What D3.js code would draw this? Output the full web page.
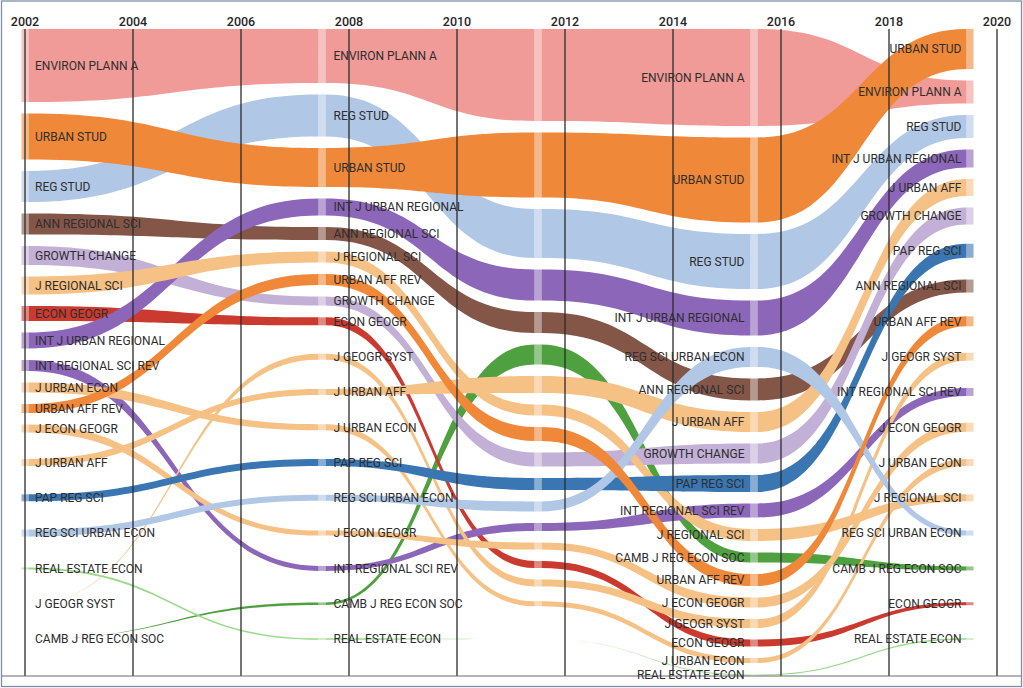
<!DOCTYPE html>
<html>
<head>
<meta charset="utf-8">
<script src="https://cdn.jsdelivr.net/npm/d3@7"></script>
<style>
  html, body { margin: 0; padding: 0; background: #fff; }
  svg { display: block; }
  text { font-family: Roboto, "Liberation Sans", sans-serif; }
</style>
</head>
<body>
<svg id="chart" width="1023" height="688"></svg>
<script>
// ---- data ----
const journals = [
  "ENVIRON PLANN A", "URBAN STUD", "REG STUD", "ANN REGIONAL SCI", "GROWTH CHANGE",
  "J REGIONAL SCI", "ECON GEOGR", "INT J URBAN REGIONAL", "INT REGIONAL SCI REV",
  "J URBAN ECON", "URBAN AFF REV", "J ECON GEOGR", "J URBAN AFF", "PAP REG SCI",
  "REG SCI URBAN ECON", "REAL ESTATE ECON", "J GEOGR SYST", "CAMB J REG ECON SOC"
];
const colors = [
  "#f09b98", "#f0883a", "#b1c7e6", "#845648", "#c3b0d6",
  "#f6c185", "#cb3a2f", "#8c66b8", "#8c66b8",
  "#f6c185", "#f0883a", "#f6c185", "#f6c185", "#3a76b1",
  "#b1c7e6", "#9ad98a", "#f6c185", "#4fa03e"
];
const periods = [2002, 2007.5, 2011.5, 2015.5, 2019.5];
const yearTicks = [2002, 2004, 2006, 2008, 2010, 2012, 2014, 2016, 2018, 2020];

// rank of each journal (same order as `journals`) in each period
const rank2002 = [0, 1, 2, 3, 4, 5, 6, 7, 8, 9, 10, 11, 12, 13, 14, 15, 16, 17];
const rank2007 = [0, 2, 1, 4, 7, 5, 8, 3, 15, 11, 6, 14, 10, 12, 13, 17, 9, 16];
const rank2011 = [0, 1, 2, 4, 9, 7, 14, 3, 12, 16, 8, 13, 6, 10, 11, 17, 15, 5];
const rank2015 = [0, 1, 2, 5, 7, 10, 15, 3, 9, 16, 12, 13, 6, 8, 4, 17, 14, 11];
const rank2019 = [1, 0, 2, 7, 5, 13, 16, 3, 10, 12, 8, 11, 4, 6, 14, 17, 9, 15];

// band weight of each journal in each period
const value2002 = [73, 46, 31, 21, 19, 18, 15, 16, 11, 10, 9, 8, 7, 7, 7, 2, 0, 0];
const value2007 = [54, 39, 42, 13, 9, 11, 8, 17, 5, 6, 11, 5, 6, 7, 6, 1.5, 6, 2.5];
const value2011 = [92, 65, 49, 21, 14, 11, 7, 31, 8, 5, 14, 7, 17, 12, 10, 0, 7, 20];
const value2015 = [97, 85, 55, 22, 20, 12, 7, 35, 14, 5, 12, 10, 20, 17, 20, 1, 9, 10];
const value2019 = [23, 40, 23, 13, 17, 7, 3, 18, 8, 7, 10, 9, 17, 14, 5, 1.5, 8, 4];

const ranks = [rank2002, rank2007, rank2011, rank2015, rank2019];
const values = [value2002, value2007, value2011, value2015, value2019];

// ---- layout ----
const W = 1023, H = 688;
const svg = d3.select("#chart");
const x = d3.scaleLinear().domain([2002, 2020]).range([25, 997]);
const yGrid = d3.scalePoint().domain(d3.range(journals.length)).range([39, 639]);
const thick = d3.scaleLinear().domain([0, 100]).range([0, 100]);
const plotTop = 29, pad = 11.5, nodeW = 7, axisBottom = 676;

const nodes = periods.map((p, pi) => {
  const idx = d3.range(journals.length).sort((a, b) => ranks[pi][a] - ranks[pi][b]);
  const out = new Array(journals.length);
  let prevBottom = null;
  idx.forEach(j => {
    const hh = thick(values[pi][j]);
    const minC = prevBottom === null ? plotTop + hh / 2 : prevBottom + pad + hh / 2;
    const c = Math.max(yGrid(ranks[pi][j]), minC);
    out[j] = { j, pi, y0: c - hh / 2, y1: c + hh / 2, c, cx: x(p) };
    prevBottom = c + hh / 2;
  });
  return out;
});

// frame
svg.append("rect").attr("x", 1.5).attr("y", 1).attr("width", W - 3).attr("height", H - 2.5)
  .attr("fill", "none").attr("stroke", "#7d8ea8").attr("stroke-width", 1.3);

// links
const gLinks = svg.append("g");
const drawOrder = d3.range(journals.length).sort((a, b) => d3.ascending(journals[a], journals[b]));
drawOrder.forEach(j => {
  for (let pi = 0; pi < periods.length - 1; pi++) {
    const a = nodes[pi][j], b = nodes[pi + 1][j];
    if (a.y1 - a.y0 <= 0 && b.y1 - b.y0 <= 0) continue;
    const x0 = a.cx + nodeW / 2, x1 = b.cx - nodeW / 2, xm = (x0 + x1) / 2;
    const p = d3.path();
    p.moveTo(x0, a.y0);
    p.bezierCurveTo(xm, a.y0, xm, b.y0, x1, b.y0);
    p.lineTo(x1, b.y1);
    p.bezierCurveTo(xm, b.y1, xm, a.y1, x0, a.y1);
    p.closePath();
    gLinks.append("path").attr("d", p.toString()).attr("fill", colors[j]);
  }
});

// nodes (lighter strips)
const gNodes = svg.append("g");
nodes.forEach(col => col.forEach(n => {
  if (n.y1 - n.y0 <= 0) return;
  gNodes.append("rect")
    .attr("x", n.cx - nodeW / 2).attr("y", n.y0)
    .attr("width", nodeW).attr("height", n.y1 - n.y0)
    .attr("fill", colors[n.j]).attr("fill-opacity", 0.6);
}));

// year grid lines
const gAxis = svg.append("g");
gAxis.selectAll("line.yr").data(yearTicks).join("line")
  .attr("class", "yr")
  .attr("x1", d => x(d)).attr("x2", d => x(d))
  .attr("y1", 29).attr("y2", axisBottom)
  .attr("stroke", "#2b2b2b").attr("stroke-width", 1.3);
gAxis.append("line").attr("x1", 2).attr("x2", W - 2)
  .attr("y1", axisBottom).attr("y2", axisBottom)
  .attr("stroke", "#6a6a6a").attr("stroke-width", 1);
gAxis.selectAll("text.yr").data(yearTicks).join("text")
  .attr("class", "yr")
  .attr("x", d => x(d)).attr("y", 26)
  .attr("text-anchor", "middle")
  .attr("font-size", 12.5).attr("font-weight", 500).attr("fill", "#262626")
  .text(d => d);

// labels
const labelCfg = [
  { dx: 10, anchor: "start" },
  { dx: 11.5, anchor: "start" },
  null,
  { dx: -9.5, anchor: "end" },
  { dx: -8.5, anchor: "end" }
];
const gLabels = svg.append("g");
nodes.forEach((col, pi) => {
  const cfg = labelCfg[pi];
  if (!cfg) return;
  col.forEach(n => {
    gLabels.append("text")
      .attr("x", n.cx + cfg.dx).attr("y", n.c)
      .attr("dy", "0.36em")
      .attr("text-anchor", cfg.anchor)
      .attr("font-size", 12).attr("fill", "#2e2e2e")
      .text(journals[n.j]);
  });
});
</script>
</body>
</html>
